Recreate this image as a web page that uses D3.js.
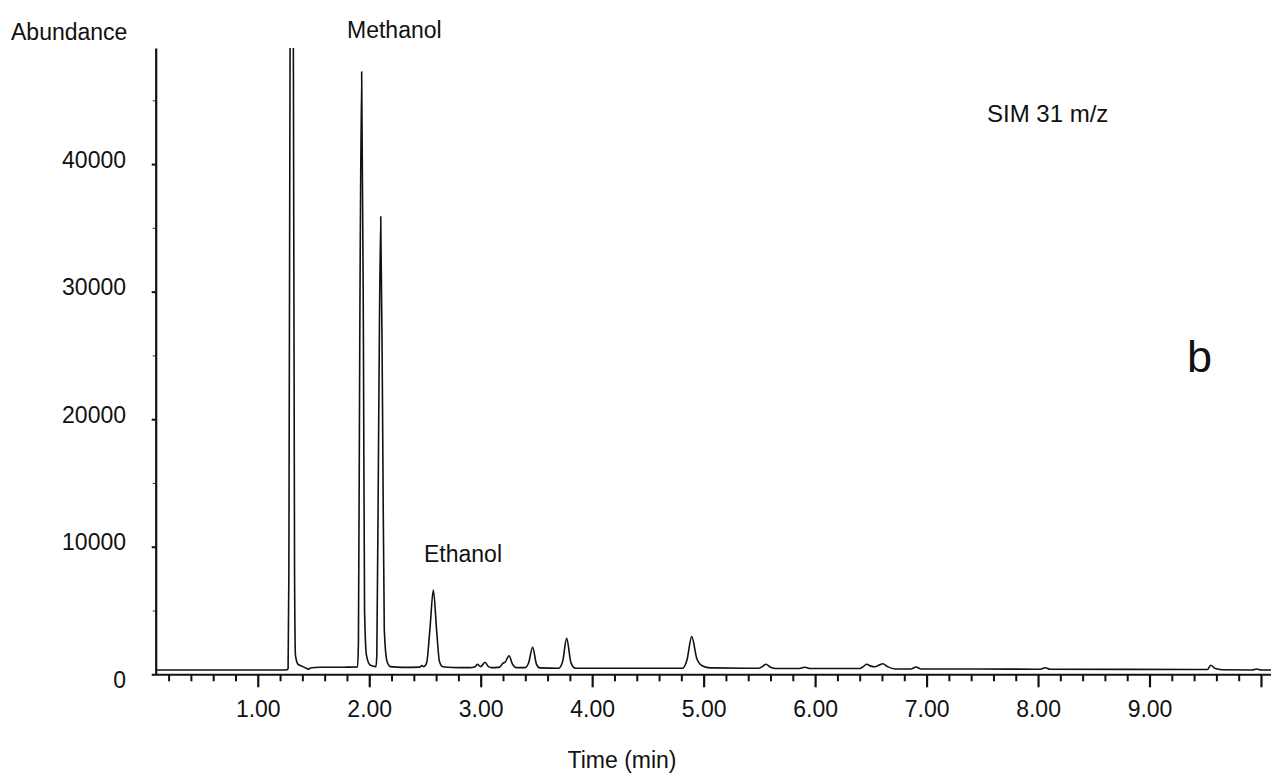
<!DOCTYPE html>
<html>
<head>
<meta charset="utf-8">
<script src="https://cdn.jsdelivr.net/npm/d3@7"></script>
<style>
  body { margin: 0; background: #fff; }
  svg text { font-family: "Liberation Sans", Arial, sans-serif; fill: #111; }
</style>
</head>
<body>
<svg id="chart"></svg>
<script>
const width = 1271;
const height = 777;

// Chromatogram trace (time in min, abundance)
const times = [
  0.08, 1.20, 1.265, 1.272, 1.279, 1.290, 1.3035, 1.319, 1.330, 1.338, 1.36, 1.40, 1.44, 1.454, 1.47, 1.56,
  1.80, 1.895, 1.903, 1.915, 1.932, 1.948, 1.958, 1.975, 2.007, 2.06, 2.068, 2.085, 2.103, 2.12, 2.135, 2.16, 2.19,
  2.30, 2.455, 2.47, 2.49, 2.515, 2.545, 2.575, 2.605, 2.63, 2.66, 2.75,
  2.90, 2.95, 2.97, 3.00, 3.038, 3.07, 3.10, 3.17, 3.197, 3.22, 3.254, 3.285, 3.32,
  3.40, 3.43, 3.466, 3.50, 3.53,
  3.70, 3.735, 3.771, 3.81, 3.85,
  4.40, 4.81, 4.85, 4.893, 4.94, 4.99, 5.06,
  5.49, 5.53, 5.559, 5.60, 5.65,
  5.86, 5.909, 5.96,
  6.40, 6.435, 6.463, 6.50, 6.538, 6.575, 6.607, 6.65, 6.72,
  6.86, 6.905, 6.95,
  7.5, 8.02, 8.062, 8.11,
  8.8, 9.52, 9.549, 9.59, 9.65,
  9.92, 9.962, 10.0, 10.09
];
const abundance = [
  337, 340, 360, 450, 8000, 50000, 150000, 50000, 8000, 1500, 800, 620, 450, 392, 500, 549,
  560, 570, 2500, 26000, 47240, 26000, 5000, 1500, 730, 600, 1500, 20000, 35880, 20000, 3500, 1000, 600,
  540, 560, 680, 600, 900, 3600, 6610, 3400, 1000, 590, 530,
  520, 600, 790, 600, 940, 600, 520, 560, 860, 960, 1460, 800, 520,
  520, 900, 2120, 800, 500,
  480, 1000, 2820, 900, 480,
  470, 480, 1100, 2950, 1200, 650, 500,
  470, 620, 784, 560, 460,
  460, 550, 450,
  450, 620, 784, 640, 596, 720, 830, 600, 420,
  420, 570, 415,
  410, 400, 517, 395,
  390, 380, 706, 450, 360,
  340, 415, 340, 337
];

const yTicks = [0, 10000, 20000, 30000, 40000];
const yMinorTicks = [5000, 15000, 25000, 35000, 45000];
const xTicks = [1, 2, 3, 4, 5, 6, 7, 8, 9, 10];
const xTickLabels = ["1.00", "2.00", "3.00", "4.00", "5.00", "6.00", "7.00", "8.00", "9.00", ""];

const annotations = [
  { text: "Methanol", x: 347, y: 38 },
  { text: "Ethanol", x: 424, y: 562 },
  { text: "SIM 31 m/z", x: 987, y: 122 }
];

const svg = d3.select("#chart")
  .attr("width", width)
  .attr("height", height);

const xScale = d3.scaleLinear().domain([0.078, 10.09]).range([155, 1271]);
const yScale = d3.scaleLinear().domain([0, 49100]).range([674.3, 48]);

svg.append("clipPath")
  .attr("id", "plot-clip")
  .append("rect")
  .attr("x", 155).attr("y", 48)
  .attr("width", 1271 - 155).attr("height", 674.3 - 48);

// trace
const points = times.map((t, i) => [t, abundance[i]]);
const line = d3.line()
  .x(d => xScale(d[0]))
  .y(d => yScale(d[1]))
  .curve(d3.curveMonotoneX);

svg.append("path")
  .datum(points)
  .attr("clip-path", "url(#plot-clip)")
  .attr("fill", "none")
  .attr("stroke", "#111")
  .attr("stroke-width", 1.6)
  .attr("stroke-linejoin", "round")
  .attr("d", line);

// x axis, minor ticks first
svg.append("g")
  .attr("transform", `translate(0, ${yScale(0)})`)
  .call(d3.axisBottom(xScale)
    .tickValues(d3.range(1, 51).map(i => i * 0.2).filter(v => Math.abs(v - Math.round(v)) > 0.01))
    .tickSize(7).tickSizeOuter(0).tickFormat(""))
  .call(g => g.select(".domain").remove())
  .call(g => g.selectAll("line").attr("stroke", "#111").attr("stroke-width", 2));

const xAxis = svg.append("g")
  .attr("transform", `translate(0, ${yScale(0)})`)
  .call(d3.axisBottom(xScale)
    .tickValues(xTicks)
    .tickSize(13).tickSizeOuter(0)
    .tickFormat((d, i) => xTickLabels[i]));
xAxis.select(".domain").attr("stroke", "#111").attr("stroke-width", 2);
xAxis.selectAll("line").attr("stroke", "#111").attr("stroke-width", 2.2);
xAxis.selectAll("text")
  .attr("y", 43).attr("dy", 0)
  .style("font-size", "23px")
  .attr("fill", "#111");

// y axis
svg.append("g")
  .attr("transform", "translate(155.7, 0)")
  .call(d3.axisLeft(yScale).tickValues(yMinorTicks).tickSize(3).tickSizeOuter(0).tickFormat(""))
  .call(g => g.select(".domain").remove())
  .call(g => g.selectAll("line").attr("stroke", "#333").attr("stroke-width", 1));

const yAxis = svg.append("g")
  .attr("transform", "translate(155.7, 0)")
  .call(d3.axisLeft(yScale).tickValues(yTicks).tickSize(4).tickSizeOuter(0).tickFormat(d3.format("d")));
yAxis.select(".domain").attr("stroke", "#111").attr("stroke-width", 2.2);
yAxis.selectAll("line").attr("stroke", "#111").attr("stroke-width", 2);
yAxis.selectAll("text")
  .attr("x", -29.7)
  .attr("dy", d => d === 0 ? "13px" : "3px")
  .style("font-size", "23px")
  .attr("fill", "#111");

// titles
svg.append("text")
  .attr("x", 11).attr("y", 40)
  .style("font-size", "23px")
  .text("Abundance");

svg.append("text")
  .attr("x", 622).attr("y", 768)
  .attr("text-anchor", "middle")
  .style("font-size", "23px")
  .text("Time (min)");

svg.selectAll(".note")
  .data(annotations)
  .enter()
  .append("text")
  .attr("class", "note")
  .attr("x", d => d.x)
  .attr("y", d => d.y)
  .style("font-size", d => d.text.startsWith("SIM") ? "24px" : "23px")
  .text(d => d.text);

svg.append("text")
  .attr("x", 1187).attr("y", 372)
  .style("font-size", "45px")
  .text("b");
</script>
</body>
</html>
